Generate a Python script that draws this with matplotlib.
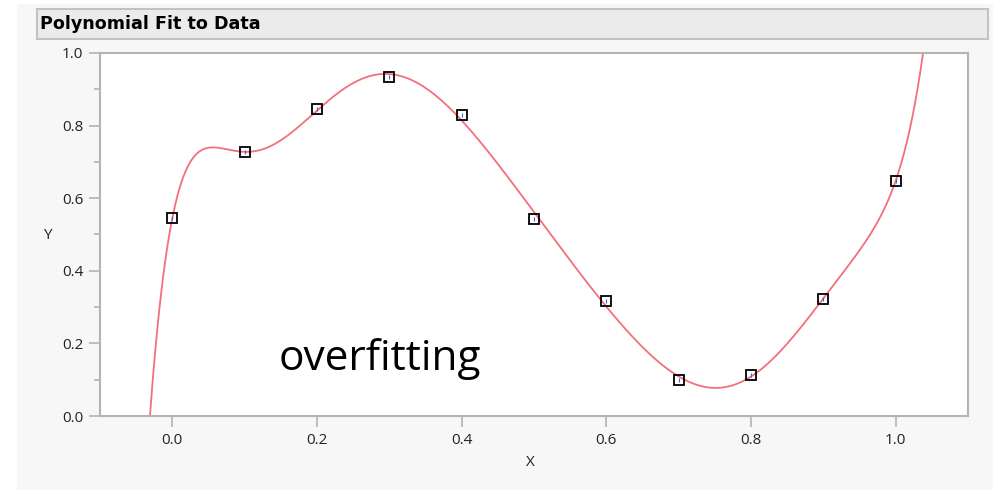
import numpy as np
import matplotlib
matplotlib.use("Agg")
import matplotlib.pyplot as plt
from matplotlib.patches import Rectangle
from matplotlib.ticker import MultipleLocator

x_data = [0.0, 0.1, 0.2, 0.3, 0.4, 0.5, 0.6, 0.7, 0.8, 0.9, 1.0]
y_data = [0.545, 0.727, 0.845, 0.933, 0.830, 0.543, 0.317, 0.100, 0.112, 0.323, 0.648]
x_ticks = [0.0, 0.2, 0.4, 0.6, 0.8, 1.0]
y_ticks = [0.0, 0.2, 0.4, 0.6, 0.8, 1.0]
poly_degree = 9

W, H = 993, 490
fig = plt.figure(figsize=(W / 100, H / 100), dpi=100)
fig.patch.set_facecolor("white")

# panel background
fig.patches.append(Rectangle((17 / W, 0), 1 - 17 / W, (H - 4) / H, transform=fig.transFigure,
                             facecolor="#f7f7f7", edgecolor="none", zorder=-10))
# title bar
fig.patches.append(Rectangle((37 / W, (H - 39) / H), (988 - 37) / W, 30 / H, transform=fig.transFigure,
                             facecolor="#ebebeb", edgecolor="#c2c2c2", linewidth=1.5, zorder=-5))
fig.text(40 / W, (H - 24) / H, "Polynomial Fit to Data", fontsize=12.6, fontweight="bold",
         family="DejaVu Sans", va="center", ha="left", color="black")

ax = fig.add_axes([100 / W, (H - 416) / H, 868 / W, 363 / H])
ax.set_facecolor("white")

coef = np.polyfit(x_data, y_data, poly_degree)
xs = np.linspace(-0.1, 1.1, 2000)
ax.plot(xs, np.polyval(coef, xs), color="#f2707c", linewidth=1.3, zorder=2)
ax.plot(x_data, y_data, linestyle="none", marker="s", markersize=7.5, markerfacecolor="none",
        markeredgecolor="black", markeredgewidth=1.3, zorder=3)
ax.plot(x_data, y_data, linestyle="none", marker="|", markersize=3, color="#4060e0",
        markeredgewidth=0.8, zorder=4)

ax.set_xlim(-0.1, 1.1)
ax.set_ylim(0.0, 1.0)
ax.set_xticks(x_ticks)
ax.set_xticklabels([f"{v:.1f}" for v in x_ticks])
ax.set_yticks(y_ticks)
ax.set_yticklabels([f"{v:.1f}" for v in y_ticks])
ax.yaxis.set_minor_locator(MultipleLocator(0.1))

for s in ax.spines.values():
    s.set_color("#b4b4b4")
    s.set_linewidth(1.5)

ax.tick_params(axis="both", which="major", length=8, width=1.2, color="#b4b4b4",
               labelsize=11, labelcolor="#222222", pad=4)
ax.tick_params(axis="y", which="minor", length=4, width=1.2, color="#b4b4b4")
for lab in ax.get_xticklabels() + ax.get_yticklabels():
    lab.set_family("Open Sans")

fig.text(530 / W, (H - 462) / H, "X", fontsize=11, family="Open Sans", ha="center", va="center", color="#222222")
fig.text(47 / W, (H - 235) / H, "Y", fontsize=11, family="Open Sans", ha="center", va="center", color="#222222")

ax.text(0.287, 0.158, "overfitting", fontsize=30.5, family="Open Sans", ha="center", va="center", color="black")

fig.savefig("out.png", dpi=100)
